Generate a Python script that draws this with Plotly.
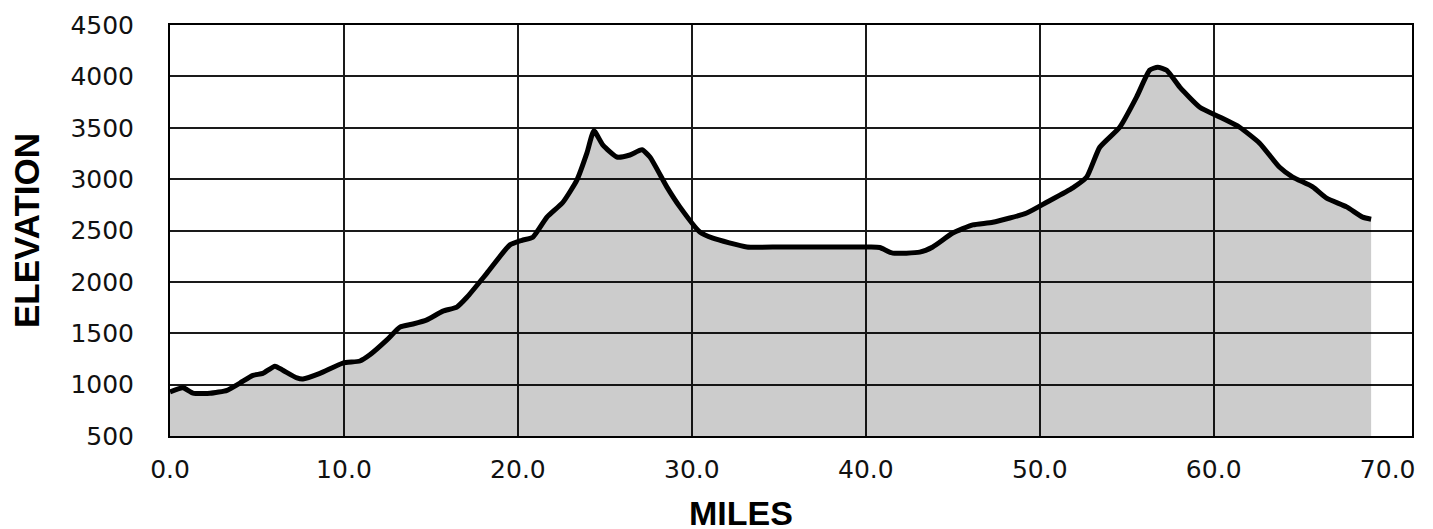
import plotly.graph_objects as go

# Elevation profile
miles = [0.0, 0.75, 1.32, 2.3, 3.28, 4.02, 4.77, 5.34, 6.03, 6.49, 7.3, 7.64, 8.62, 9.94,
         10.92, 11.49, 12.47, 13.22, 13.97, 14.77, 15.69, 16.49, 17.07, 18.22, 19.54,
         20.23, 20.86, 21.67, 22.59, 23.39, 23.97, 24.37, 24.89, 25.69, 26.44, 27.13,
         27.59, 28.56, 29.31, 30.46, 31.21, 33.16, 35.06, 36.95, 40.23, 40.8, 41.55,
         43.1, 43.85, 45.0, 46.15, 47.3, 49.25, 50.4, 51.9, 52.7, 53.45, 54.6, 55.57,
         56.32, 56.78, 57.3, 58.05, 59.2, 60.34, 61.49, 62.64, 63.79, 64.54, 65.69,
         66.49, 67.64, 68.56, 69.05]
elevation = [930, 970, 918, 915, 945, 1015, 1090, 1110, 1180, 1140, 1065, 1055, 1110, 1210,
             1230, 1290, 1435, 1560, 1590, 1630, 1715, 1755, 1850, 2085, 2360,
             2405, 2435, 2630, 2775, 2990, 3255, 3470, 3330, 3215, 3235, 3285,
             3215, 2925, 2730, 2485, 2425, 2340, 2340, 2340, 2340, 2335, 2280,
             2290, 2340, 2475, 2555, 2580, 2670, 2775, 2915, 3020, 3310, 3505, 3800,
             4060, 4090, 4060, 3895, 3700, 3605, 3505, 3350, 3115, 3020, 2925,
             2815, 2730, 2630, 2610]

x_ticks = [0, 10, 20, 30, 40, 50, 60, 70]
x_grid = [10, 20, 30, 40, 50, 60]
y_ticks = [500, 1000, 1500, 2000, 2500, 3000, 3500, 4000, 4500]
x_range = [0, 71.4]
y_range = [500, 4500]

tick_font = dict(family="DejaVu Sans", size=25, color="#111")

# page body has an 8px margin, so the figure is sized/positioned to compensate
W, H = 1425, 521
L, R, T, B = 162, 21, 17, 93
pw, ph = W - L - R, H - T - B

fig = go.Figure()
fig.add_trace(go.Scatter(
    x=miles, y=elevation, mode="lines",
    line=dict(color="black", width=5, shape="spline", smoothing=0.5),
    fill="tozeroy", fillcolor="rgba(0,0,0,0.2)",
    hoverinfo="skip", showlegend=False,
))
# invisible trace on overlay axis to carry vertical grid lines
fig.add_trace(go.Scatter(x=[x_range[0]], y=[y_range[0]], xaxis="x2", mode="markers",
                         marker=dict(opacity=0), showlegend=False, hoverinfo="skip"))

fig.update_layout(
    width=W, height=H,
    margin=dict(l=L, r=R, t=T, b=B, autoexpand=False),
    paper_bgcolor="white", plot_bgcolor="white",
    xaxis=dict(range=x_range, tickvals=x_ticks, tickformat=".1f",
               showgrid=False, zeroline=False,
               showline=True, linecolor="black", linewidth=2, mirror=True,
               ticks="outside", ticklen=10, tickcolor="rgba(0,0,0,0)",
               tickfont=tick_font),
    xaxis2=dict(range=x_range, overlaying="x", matches="x", tickvals=x_grid,
                showgrid=True, gridcolor="#1a1a1a", gridwidth=1.5,
                showticklabels=False, zeroline=False, showline=False),
    yaxis=dict(range=y_range, tickvals=y_ticks, showgrid=True,
               gridcolor="#1a1a1a", gridwidth=1.5, zeroline=False,
               showline=True, linecolor="black", linewidth=2, mirror=True,
               ticks="outside", ticklen=29, tickcolor="rgba(0,0,0,0)",
               tickfont=tick_font),
    annotations=[
        dict(text="<b>ELEVATION</b>", xref="paper", yref="paper",
             x=(18.5 - L) / pw, y=0.5, xanchor="center", yanchor="middle",
             textangle=-90, showarrow=False,
             font=dict(family="Liberation Sans", size=35, color="#000")),
        dict(text="<b>MILES</b>", xref="paper", yref="paper",
             x=(733 - L) / pw, y=-(484 - (H - B)) / ph,
             xanchor="center", yanchor="top", showarrow=False,
             font=dict(family="Liberation Sans", size=34, color="#000")),
    ],
)

fig.write_html("out.html")
